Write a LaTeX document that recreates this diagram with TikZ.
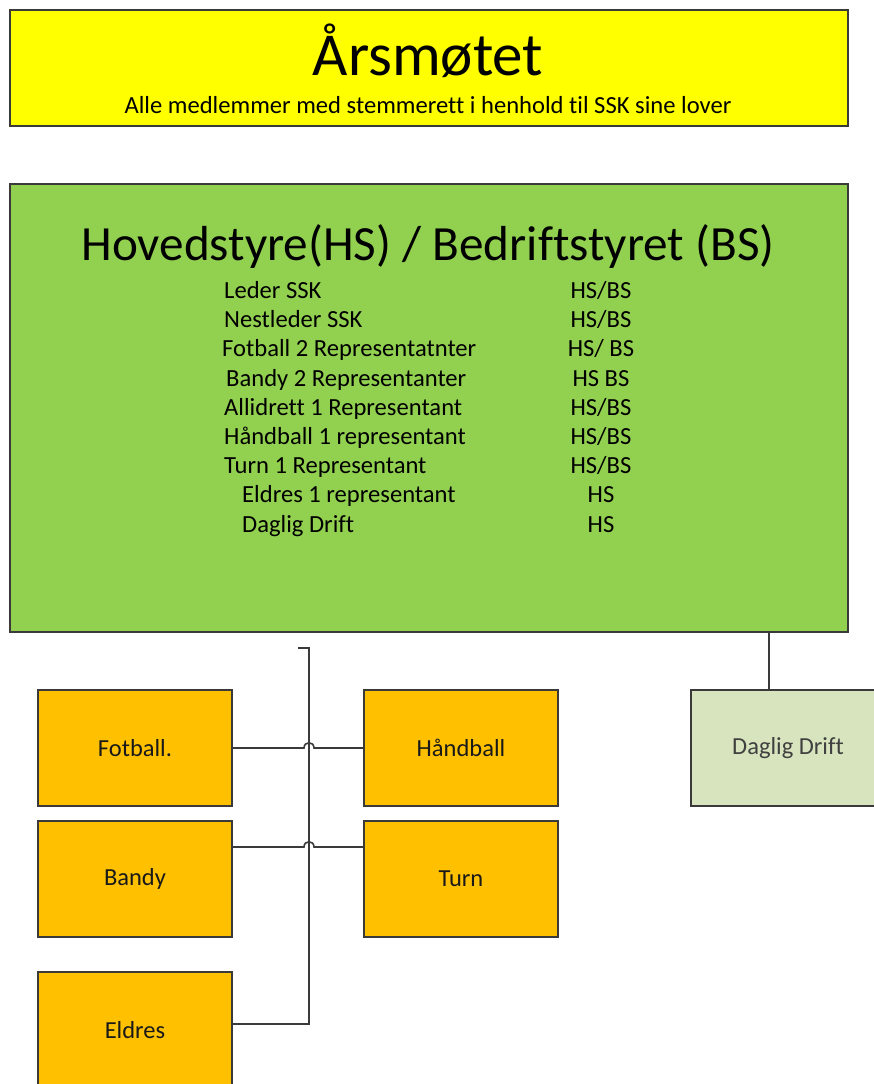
\documentclass[tikz,border=0pt]{standalone}
\usepackage{fontspec}
\setmainfont{Carlito}[Ligatures=NoCommon]
\definecolor{yel}{HTML}{FFFF00}
\definecolor{grn}{HTML}{92D050}
\definecolor{org}{HTML}{FFC000}
\definecolor{lgrn}{HTML}{D7E4BD}
\definecolor{edge}{HTML}{3A3A3A}
\tikzset{
  box/.style={draw=edge, line width=1.5pt, inner sep=0pt, font=\fontsize{24.5}{29}\selectfont, text=black!90},
  unit/.style={box, fill=org, minimum width=194pt, minimum height=116pt},
  txt/.style={inner sep=0pt, anchor=base, font=\fontsize{24.6}{29}\selectfont, text=black},
  row/.style={txt, anchor=base west},
  conn/.style={draw=edge, line width=1.6pt}
}
\begin{document}
\begin{tikzpicture}[x=1pt,y=-1pt]
\useasboundingbox (0,0) rectangle (873,1084);
% boxes
\node[box, fill=yel, minimum width=838pt, minimum height=116pt] (arsmote) at (429,68) {};
\node[box, fill=grn, minimum width=838pt, minimum height=448pt] (hs) at (429,408) {};
\node[unit] (fotball) at (135,748) {Fotball.};
\node[unit] (bandy) at (135,879) {Bandy};
\node[unit] (eldres) at (135,1030) {Eldres};
\node[unit] (handball) at (461,748) {Håndball};
\node[unit] (turn) at (461,879) {Turn};
\node[box, fill=lgrn, minimum width=194pt, minimum height=116pt, text=black!75] (daglig) at (788,748) {Daglig Drift};
% titles
\node[txt, font=\fontsize{61}{72}\selectfont] (t1) at (428,75) {Årsmøtet};
\node[txt] (t2) at (428,113) {Alle medlemmer med stemmerett i henhold til SSK sine lover};
\node[txt, font=\fontsize{49.2}{58}\selectfont] (t3) at (428,260) {Hovedstyre(HS) / Bedriftstyret (BS)};
% rows
\node[row] (r1) at (224,298.5) {Leder SSK};
\node[row] (r2) at (224,327.7) {Nestleder SSK};
\node[row] (r3) at (222,356.9) {Fotball 2 Representatnter};
\node[row] (r4) at (226,386.1) {Bandy 2 Representanter};
\node[row] (r5) at (224,415.3) {Allidrett 1 Representant};
\node[row] (r6) at (224,444.5) {Håndball 1 representant};
\node[row] (r7) at (224,473.7) {Turn 1 Representant};
\node[row] (r8) at (242,502.9) {Eldres 1 representant};
\node[row] (r9) at (242,532.1) {Daglig Drift};
\node[txt] (s1) at (601,298.5) {HS/BS};
\node[txt] (s2) at (601,327.7) {HS/BS};
\node[txt] (s3) at (601,356.9) {HS/ BS};
\node[txt] (s4) at (601,386.1) {HS BS};
\node[txt] (s5) at (601,415.3) {HS/BS};
\node[txt] (s6) at (601,444.5) {HS/BS};
\node[txt] (s7) at (601,473.7) {HS/BS};
\node[txt] (s8) at (601,502.9) {HS};
\node[txt] (s9) at (601,532.1) {HS};
% connectors
\coordinate (trunktop) at (298,648);
\draw[conn] ([yshift=6pt]eldres.east) -- (309,1024) -- (309,648) -- (trunktop);
\draw[conn] (fotball.east) -- (304,748) .. controls (304,741) and (314,741) .. (314,748) -- (handball.west);
\draw[conn] ([yshift=32pt]bandy.east) -- (304,847) .. controls (304,840) and (314,840) .. (314,847) -- ([yshift=32pt]turn.west);
\draw[conn] ([xshift=-19pt]daglig.north) -- ([xshift=-19pt]daglig.north |- hs.south);
\end{tikzpicture}
\end{document}
